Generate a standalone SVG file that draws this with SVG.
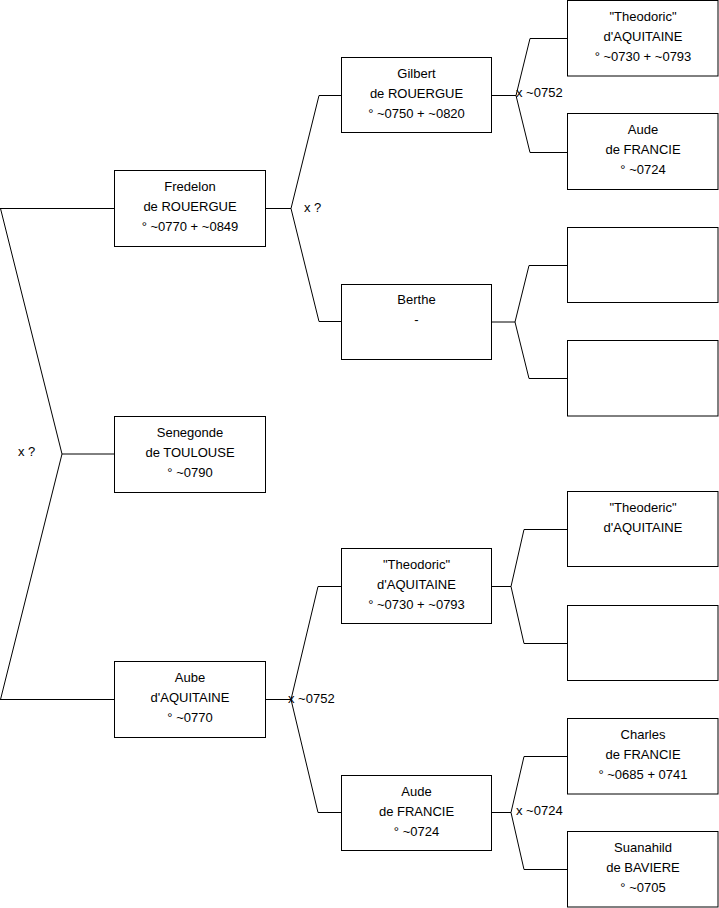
<svg xmlns="http://www.w3.org/2000/svg" width="719" height="908" viewBox="0 0 719 908">
<style>
.box{fill:#fff;stroke:#000;stroke-width:1}
.ln{fill:none;stroke:#000;stroke-width:1}
text{font-family:"Liberation Sans",Arial,sans-serif;font-size:13px;fill:#000}
.c{text-anchor:middle}
</style>
<rect x="0" y="0" width="719" height="908" fill="#fff"/>
<g id="connectors">
<path class="ln" d="M0,208.5H114.5M0,699.5H114.5M0.5,208.5L62,454L0.5,699.5M62,454H114.5"/>
<path class="ln" d="M265.5,208.5H291M291,208.5L319,95.5H341.5M291,208.5L319,321.5H341.5"/>
<path class="ln" d="M491.5,95.5H516M516,95.5L530,38.5H567.5M516,95.5L530,152.5H567.5"/>
<path class="ln" d="M491.5,322H515M515,322L529,265.5H567.5M515,322L529,378.5H567.5"/>
<path class="ln" d="M265.5,699.5H291M291,699.5L318,586.5H341.5M291,699.5L318,812.5H341.5"/>
<path class="ln" d="M491.5,586.5H511M511,586.5L524,529.5H567.5M511,586.5L524,643.5H567.5"/>
<path class="ln" d="M491.5,812.5H511M511,812.5L524,756.5H567.5M511,812.5L524,869.5H567.5"/>
<text x="18" y="456">x ?</text>
<text x="304" y="212">x ?</text>
<text x="516" y="97">x ~0752</text>
<text x="288" y="703">x ~0752</text>
<text x="516" y="815">x ~0724</text>
</g>
<g id="fredelon"><rect class="box" x="114.5" y="170.5" width="151" height="76"/>
<text class="c" x="190" y="191">Fredelon</text><text class="c" x="190" y="211">de ROUERGUE</text><text class="c" x="190" y="231">° ~0770 + ~0849</text></g>
<g id="senegonde"><rect class="box" x="114.5" y="416.5" width="151" height="76"/>
<text class="c" x="190" y="437">Senegonde</text><text class="c" x="190" y="457">de TOULOUSE</text><text class="c" x="190" y="477">° ~0790</text></g>
<g id="aube"><rect class="box" x="114.5" y="661.5" width="151" height="76"/>
<text class="c" x="190" y="682">Aube</text><text class="c" x="190" y="702">d'AQUITAINE</text><text class="c" x="190" y="722">° ~0770</text></g>
<g id="gilbert"><rect class="box" x="341.5" y="57.5" width="150" height="75"/>
<text class="c" x="416.5" y="78">Gilbert</text><text class="c" x="416.5" y="98">de ROUERGUE</text><text class="c" x="416.5" y="118">° ~0750 + ~0820</text></g>
<g id="berthe"><rect class="box" x="341.5" y="284.5" width="150" height="75"/>
<text class="c" x="416.5" y="304">Berthe</text><text class="c" x="416.5" y="324">-</text></g>
<g id="theodoric1"><rect class="box" x="341.5" y="548.5" width="150" height="75"/>
<text class="c" x="416.5" y="569">"Theodoric"</text><text class="c" x="416.5" y="589">d'AQUITAINE</text><text class="c" x="416.5" y="609">° ~0730 + ~0793</text></g>
<g id="aude1"><rect class="box" x="341.5" y="775.5" width="150" height="75"/>
<text class="c" x="416.5" y="796">Aude</text><text class="c" x="416.5" y="816">de FRANCIE</text><text class="c" x="416.5" y="836">° ~0724</text></g>
<g id="theodoric2"><rect class="box" x="567.5" y="0.5" width="150.5" height="75.5"/>
<text class="c" x="643" y="21">"Theodoric"</text><text class="c" x="643" y="41">d'AQUITAINE</text><text class="c" x="643" y="61">° ~0730 + ~0793</text></g>
<g id="aude2"><rect class="box" x="567.5" y="113.5" width="150.5" height="76"/>
<text class="c" x="643" y="134">Aude</text><text class="c" x="643" y="154">de FRANCIE</text><text class="c" x="643" y="174">° ~0724</text></g>
<g id="empty1"><rect class="box" x="567.5" y="227.5" width="150.5" height="75"/></g>
<g id="empty2"><rect class="box" x="567.5" y="340.5" width="150.5" height="75.5"/></g>
<g id="theoderic"><rect class="box" x="567.5" y="491.5" width="150.5" height="75"/>
<text class="c" x="643" y="512">"Theoderic"</text><text class="c" x="643" y="532">d'AQUITAINE</text></g>
<g id="empty3"><rect class="box" x="567.5" y="605.5" width="150.5" height="75"/></g>
<g id="charles"><rect class="box" x="567.5" y="718.5" width="150.5" height="75.5"/>
<text class="c" x="643" y="739">Charles</text><text class="c" x="643" y="759">de FRANCIE</text><text class="c" x="643" y="779">° ~0685 + 0741</text></g>
<g id="suanahild"><rect class="box" x="567.5" y="831.5" width="150.5" height="75.5"/>
<text class="c" x="643" y="852">Suanahild</text><text class="c" x="643" y="872">de BAVIERE</text><text class="c" x="643" y="892">° ~0705</text></g>
</svg>
